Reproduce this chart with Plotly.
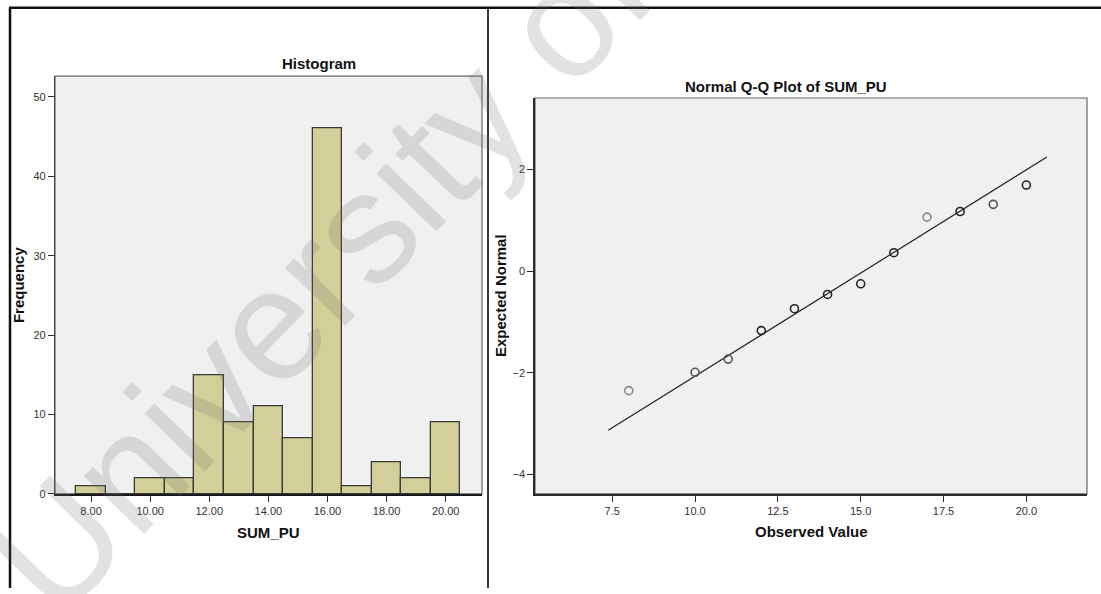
import plotly.graph_objects as go

W, H = 1101, 594

# Histogram of SUM_PU (bin width 1)
bin_centers = [8, 9, 10, 11, 12, 13, 14, 15, 16, 17, 18, 19, 20]
frequency = [1, 0, 2, 2, 15, 9, 11, 7, 46, 1, 4, 2, 9]
hist_xticks = [8, 10, 12, 14, 16, 18, 20]
hist_yticks = [0, 10, 20, 30, 40, 50]

# Normal Q-Q plot of SUM_PU
observed = [8, 10, 11, 12, 13, 14, 15, 16, 17, 18, 19, 20]
expected = [-2.35, -1.99, -1.73, -1.17, -0.74, -0.46, -0.25, 0.36, 1.06, 1.17, 1.31, 1.69]
ref_x = [7.38, 20.62]
ref_y = [-3.13, 2.24]
qq_xticks = [7.5, 10.0, 12.5, 15.0, 17.5, 20.0]
qq_yticks = [-4, -2, 0, 2]

FONT = "Liberation Sans, Arial, sans-serif"


def px(x):
    return x / W


def py(y):
    return 1 - y / H


# overlapping cases make a point look darker
count_of = dict(zip(bin_centers, frequency))
edge = ["#8a8a8a" if count_of[v] == 1 else "#555555" if count_of[v] < 4 else "#222222"
        for v in observed]

fig = go.Figure()

fig.add_trace(go.Bar(
    x=bin_centers, y=frequency, width=1,
    marker=dict(color="#D3CF98", line=dict(color="#3a3a3a", width=1.3)),
    xaxis="x", yaxis="y", showlegend=False, hoverinfo="x+y",
))

fig.add_trace(go.Scatter(
    x=ref_x, y=ref_y, mode="lines",
    line=dict(color="#222222", width=1.2),
    xaxis="x2", yaxis="y2", showlegend=False,
))

fig.add_trace(go.Scatter(
    x=observed, y=expected, mode="markers",
    marker=dict(symbol="circle-open", size=8, color=edge, line=dict(width=1.6, color=edge)),
    xaxis="x2", yaxis="y2", showlegend=False,
))

tick_font = dict(family=FONT, size=11, color="#333333")
axis_common = dict(
    showgrid=False, zeroline=False, showline=True,
    ticks="outside", tickcolor="#2a2a2a", tickwidth=1, tickfont=tick_font, ticklen=6,
)

fig.update_layout(
    width=W, height=H,
    autosize=False,
    margin=dict(l=0, r=0, t=0, b=0, pad=0),
    paper_bgcolor="white",
    plot_bgcolor="#F0F0F0",
    xaxis=dict(domain=[px(55), px(482)], range=[6.78, 21.23], anchor="y",
               tickvals=hist_xticks, tickformat=".2f",
               linecolor="#1a1a1a", linewidth=1.8, **axis_common),
    yaxis=dict(domain=[py(499), py(77)], range=[0, 52.6], anchor="x",
               tickvals=hist_yticks, linecolor="#444444", linewidth=1.2, **axis_common),
    xaxis2=dict(domain=[px(535), px(1087)], range=[5.17, 21.83], anchor="y2",
                tickvals=qq_xticks, tickformat=".1f",
                linecolor="#2a2a2a", linewidth=1.6, **axis_common),
    yaxis2=dict(domain=[py(499), py(99)], range=[-4.38, 3.40], anchor="x2",
                tickvals=qq_yticks, linecolor="#2a2a2a", linewidth=1.6, **axis_common),
    bargap=0,
)

# plot frames
for xr, yr in (("x domain", "y domain"), ("x2 domain", "y2 domain")):
    fig.add_shape(type="rect", xref=xr, yref=yr, x0=0, x1=1, y0=0, y1=1,
                  line=dict(color="#666666", width=1.2), layer="below")

# outer page frame and panel divider
fig.add_shape(type="line", xref="paper", yref="paper", x0=px(9), x1=1, y0=py(7.8), y1=py(7.8),
              line=dict(color="#111111", width=2.5))
fig.add_shape(type="line", xref="paper", yref="paper", x0=px(10), x1=px(10), y0=py(7.8), y1=0,
              line=dict(color="#111111", width=2.5))
fig.add_shape(type="line", xref="paper", yref="paper", x0=px(488), x1=px(488), y0=py(7.8), y1=0,
              line=dict(color="#222222", width=1.8))

bold = dict(family=FONT, size=15, color="#111111")


def label(text, x, y, angle=0):
    fig.add_annotation(text="<b>%s</b>" % text, x=px(x), y=py(y), xref="paper", yref="paper",
                       xanchor="center", yanchor="middle", showarrow=False,
                       textangle=angle, font=bold)


label("Histogram", 319, 64)
label("SUM_PU", 268, 538)
label("Frequency", 18, 288, -90)
label("Normal Q-Q Plot of SUM_PU", 786, 87)
label("Observed Value", 811, 537)
label("Expected Normal", 501, 299, -90)

# watermark
fig.add_annotation(text="University of", x=px(320), y=py(276), xref="paper", yref="paper",
                   xanchor="center", yanchor="middle", showarrow=False, textangle=-46,
                   font=dict(family=FONT, size=158, color="rgba(110,110,110,0.2)"))

fig.write_html("out.html", config={"responsive": False})
